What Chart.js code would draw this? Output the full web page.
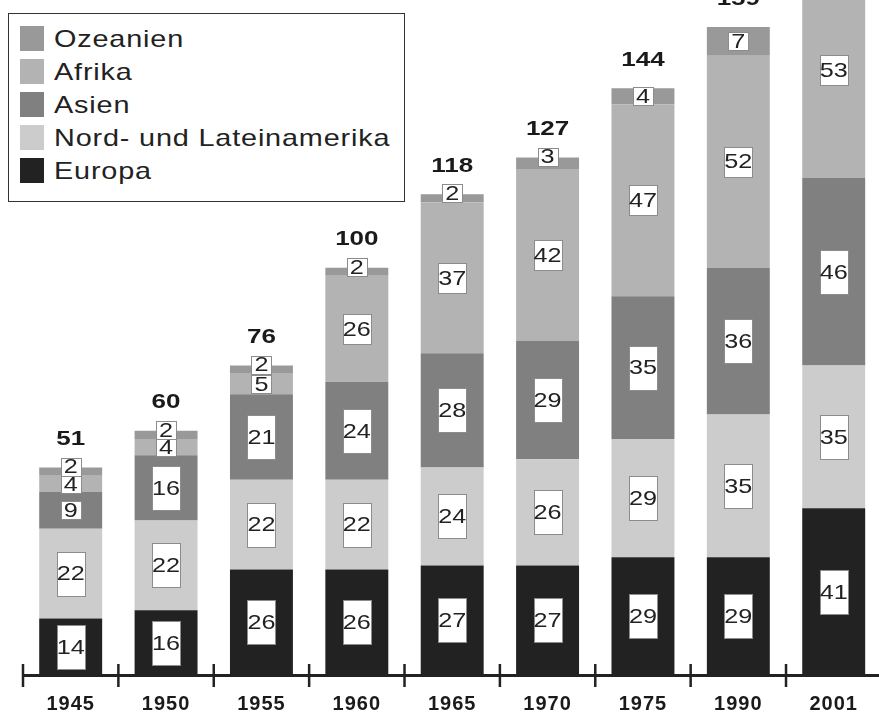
<!DOCTYPE html>
<html>
<head>
<meta charset="utf-8">
<script src="https://cdn.jsdelivr.net/npm/chart.js@4/dist/chart.umd.min.js"></script>
<style>
  html, body { margin: 0; padding: 0; width: 879px; height: 719px; overflow: hidden; background: #fff; }
  #wrap { position: absolute; left: 0; top: 0; width: 900px; height: 719px; }
  #legend { position: absolute; left: 8px; top: 13px; width: 395px; height: 187px; border: 1.5px solid #333; background: #fff; }
  .li { position: absolute; left: 11px; height: 25px; display: flex; align-items: center; }
  .sw { width: 24px; height: 25px; margin-right: 10px; flex: none; }
  .lt { display: inline-block; transform: scaleX(1.2); transform-origin: 0 50%; font-family: "Liberation Sans", Arial, sans-serif; font-size: 24px; letter-spacing: 0.7px; color: #222; white-space: nowrap; }
</style>
</head>
<body>
<div id="wrap"><canvas id="c" width="900" height="719"></canvas></div>
<div id="legend"></div>
<script>
// ---- data ----
const years    = ['1945','1950','1955','1960','1965','1970','1975','1990','2001'];
const europa   = [14, 16, 26, 26, 27, 27, 29, 29, 41];
const amerika  = [22, 22, 22, 22, 24, 26, 29, 35, 35];
const asien    = [ 9, 16, 21, 24, 28, 29, 35, 36, 46];
const afrika   = [ 4,  4,  5, 26, 37, 42, 47, 52, 53];
const ozeanien = [ 2,  2,  2,  2,  2,  3,  4,  7, 14];
const totals   = [51, 60, 76, 100, 118, 127, 144, 159, 189];

const seriesNames  = ['Europa', 'Nord- und Lateinamerika', 'Asien', 'Afrika', 'Ozeanien'];
const seriesData   = [europa, amerika, asien, afrika, ozeanien];
const seriesColors = ['#222222', '#cccccc', '#808080', '#b3b3b3', '#999999'];
const boxHeights   = [44, 44, 44, 30, 18];

// ---- legend (top entry = top of stack) ----
const legend = document.getElementById('legend');
for (let k = 0; k < seriesNames.length; k++) {
  const idx = seriesNames.length - 1 - k;
  const row = document.createElement('div');
  row.className = 'li';
  row.style.top = (12 + k * 33) + 'px';
  const sw = document.createElement('div');
  sw.className = 'sw';
  sw.style.background = seriesColors[idx];
  const t = document.createElement('span');
  t.className = 'lt';
  t.textContent = seriesNames[idx];
  row.appendChild(sw); row.appendChild(t);
  legend.appendChild(row);
}

const labelPlugin = {
  id: 'labels',
  beforeDraw(chart) { chart.ctx.letterSpacing = '1px'; },
  afterDatasetsDraw(chart) {
    const ctx = chart.ctx;
    const xs = chart.scales.x, ys = chart.scales.y;
    const area = chart.chartArea;
    ctx.save();
    ctx.letterSpacing = '0px';
    // axis line and tick marks
    ctx.fillStyle = '#222';
    ctx.fillRect(area.left - 1, area.bottom - 1.5, chart.width, 3);
    const catW = (area.right - area.left) / years.length;
    for (let i = 0; i <= years.length; i++) {
      const x = xs.getPixelForValue(0) - catW / 2 + i * catW;
      ctx.fillRect(x - 1.25, area.bottom - 11.5, 2.5, 23);
    }
    // value boxes
    ctx.textAlign = 'center';
    ctx.textBaseline = 'middle';
    for (let d = 0; d < seriesData.length; d++) {
      const meta = chart.getDatasetMeta(d);
      meta.data.forEach((el, i) => {
        const v = seriesData[d][i];
        const top = el.y, base = el.base;
        const seg = base - top;
        let cy = (top + base) / 2;
        if (seg < 14) cy = top - 1;
        let w, h;
        if (v < 10) { w = 20; h = 18; } else { w = 28; h = boxHeights[d]; }
        const x0 = Math.round(el.x - w / 2) + 0.5, y0 = Math.round(cy - h / 2) + 0.5;
        ctx.fillStyle = '#fff';
        ctx.fillRect(x0, y0, w, h);
        ctx.strokeStyle = '#8c8c8c';
        ctx.lineWidth = 1;
        ctx.strokeRect(x0, y0, w, h);
        ctx.fillStyle = '#222';
        ctx.font = '21px "Liberation Sans", Arial, sans-serif';
        ctx.save();
        ctx.translate(el.x, cy + 1);
        ctx.scale(1.2, 1);
        ctx.fillText(String(v), 0, 0);
        ctx.restore();
      });
    }
    // totals
    ctx.font = 'bold 20px "Liberation Sans", Arial, sans-serif';
    ctx.fillStyle = '#1a1a1a';
    totals.forEach((t, i) => {
      const x = xs.getPixelForValue(i);
      const y = ys.getPixelForValue(t) - 28;
      ctx.save();
      ctx.translate(x, y);
      ctx.scale(1.3, 1);
      ctx.fillText(String(t), 0, 0);
      ctx.restore();
    });
    ctx.restore();
  }
};

new Chart(document.getElementById('c'), {
  type: 'bar',
  data: {
    labels: years,
    datasets: seriesData.map((arr, d) => ({
      label: seriesNames[d],
      data: arr,
      backgroundColor: seriesColors[d],
      borderWidth: 0,
      barPercentage: 0.66,
      categoryPercentage: 1.0
    }))
  },
  options: {
    responsive: false,
    animation: false,
    devicePixelRatio: 1,
    layout: { padding: { left: 23, right: 18.6, top: 0, bottom: 0 } },
    plugins: { legend: { display: false }, tooltip: { enabled: false } },
    scales: {
      x: {
        stacked: true,
        grid: { display: false, drawTicks: false },
        border: { display: false },
        ticks: { color: '#1a1a1a', padding: 16.5, font: { family: 'Liberation Sans', size: 20, weight: 'bold' } },
        afterFit(scale) { scale.height = 43.5; }
      },
      y: {
        stacked: true,
        display: false,
        min: 0,
        max: 165.65
      }
    }
  },
  plugins: [labelPlugin]
});
</script>
</body>
</html>
